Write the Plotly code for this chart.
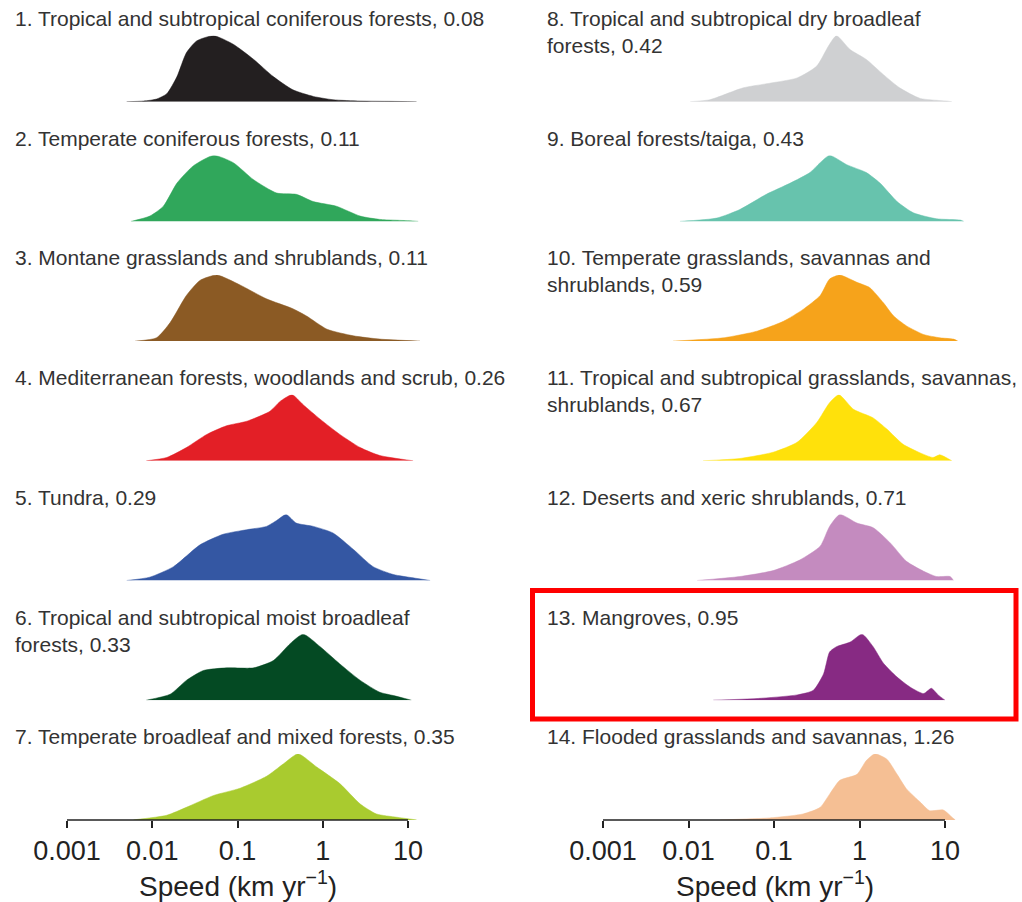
import numpy as np
import plotly.graph_objects as go

# ---------------- data ----------------
names = [
    "Tropical and subtropical coniferous forests",
    "Temperate coniferous forests",
    "Montane grasslands and shrublands",
    "Mediterranean forests, woodlands and scrub",
    "Tundra",
    "Tropical and subtropical moist broadleaf forests",
    "Temperate broadleaf and mixed forests",
    "Tropical and subtropical dry broadleaf forests",
    "Boreal forests/taiga",
    "Temperate grasslands, savannas and shrublands",
    "Tropical and subtropical grasslands, savannas, shrublands",
    "Deserts and xeric shrublands",
    "Mangroves",
    "Flooded grasslands and savannas",
]
medians = ["0.08", "0.11", "0.11", "0.26", "0.29", "0.33", "0.35",
           "0.42", "0.43", "0.59", "0.67", "0.71", "0.95", "1.26"]
colors = ["#231f20", "#30a75b", "#8b5a24", "#e31f26", "#3457a3", "#044a23", "#a9cb2f",
          "#cfd0d2", "#67c3ad", "#f6a31b", "#ffe10b", "#c48bbf", "#872a83", "#f5bf94"]
wrap_after = {6: "broadleaf", 8: "broadleaf", 10: "and", 11: "savannas,"}

tick_vals = [0.001, 0.01, 0.1, 1, 10]
tick_text = ["0.001", "0.01", "0.1", "1", "10"]

# log10(speed, km/yr) and relative density (peak = 1)
lx01 = [-2.3, -2.1, -1.95, -1.83, -1.71, -1.60, -1.48, -1.28, -1.05, -0.81, -0.58, -0.35, -0.11, 0.12, 0.44, 0.8, 1.1]
dy01 = [0, 0.01, 0.04, 0.12, 0.38, 0.74, 0.92, 1.0, 0.87, 0.64, 0.38, 0.18, 0.08, 0.03, 0.01, 0.005, 0]
lx02 = [-2.25, -2.03, -1.87, -1.71, -1.52, -1.28, -1.05, -0.81, -0.54, -0.31, -0.11, 0.16, 0.44, 0.67, 1.02, 1.12]
dy02 = [0, 0.08, 0.23, 0.58, 0.84, 1.0, 0.89, 0.63, 0.43, 0.41, 0.30, 0.23, 0.08, 0.03, 0.01, 0]
lx03 = [-2.2, -1.95, -1.79, -1.60, -1.44, -1.24, -0.97, -0.66, -0.35, -0.19, 0.05, 0.36, 0.67, 1.14]
dy03 = [0, 0.05, 0.28, 0.69, 0.92, 1.0, 0.85, 0.64, 0.49, 0.38, 0.18, 0.08, 0.03, 0]
lx04 = [-2.07, -1.83, -1.60, -1.36, -1.13, -0.89, -0.62, -0.50, -0.36, -0.23, -0.03, 0.20, 0.44, 0.67, 1.06]
dy04 = [0, 0.05, 0.2, 0.4, 0.53, 0.6, 0.75, 0.9, 1.0, 0.85, 0.63, 0.4, 0.2, 0.08, 0]
lx05 = [-2.30, -2.03, -1.75, -1.44, -1.17, -0.89, -0.66, -0.54, -0.43, -0.31, -0.11, 0.12, 0.36, 0.59, 0.83, 1.06, 1.26]
dy05 = [0, 0.05, 0.21, 0.54, 0.70, 0.77, 0.82, 0.91, 1.0, 0.87, 0.82, 0.72, 0.47, 0.21, 0.09, 0.04, 0]
lx06 = [-2.07, -1.79, -1.60, -1.40, -1.13, -0.81, -0.58, -0.38, -0.23, -0.03, 0.20, 0.44, 0.67, 0.83, 1.04]
dy06 = [0, 0.09, 0.30, 0.45, 0.49, 0.49, 0.60, 0.86, 1.0, 0.81, 0.55, 0.30, 0.12, 0.07, 0]
lx07 = [-2.22, -1.83, -1.60, -1.28, -0.97, -0.66, -0.46, -0.29, -0.07, 0.20, 0.44, 0.63, 0.87, 1.10]
dy07 = [0, 0.07, 0.19, 0.37, 0.48, 0.66, 0.85, 1.0, 0.80, 0.55, 0.24, 0.09, 0.04, 0]
lx08 = [-1.98, -1.75, -1.36, -1.05, -0.73, -0.50, -0.36, -0.27, -0.11, 0.08, 0.28, 0.47, 0.71, 1.02, 1.08]
dy08 = [0, 0.03, 0.21, 0.28, 0.36, 0.54, 0.85, 1.0, 0.79, 0.64, 0.41, 0.21, 0.05, 0.01, 0]
lx09 = [-2.10, -1.67, -1.40, -1.09, -0.81, -0.58, -0.46, -0.35, -0.15, 0.08, 0.24, 0.44, 0.63, 0.90, 1.18, 1.22]
dy09 = [0, 0.05, 0.18, 0.41, 0.58, 0.74, 0.89, 1.0, 0.86, 0.74, 0.58, 0.30, 0.13, 0.04, 0.02, 0]
lx10 = [-2.18, -1.59, -1.20, -0.89, -0.66, -0.46, -0.35, -0.23, -0.03, 0.12, 0.28, 0.40, 0.55, 0.75, 0.94, 1.10, 1.15]
dy10 = [0, 0.05, 0.15, 0.30, 0.48, 0.69, 0.94, 1.0, 0.89, 0.81, 0.58, 0.38, 0.23, 0.10, 0.05, 0.03, 0]
lx11 = [-1.83, -1.40, -1.01, -0.73, -0.50, -0.35, -0.24, -0.07, 0.16, 0.32, 0.51, 0.71, 0.86, 0.94, 1.08]
dy11 = [0, 0.035, 0.13, 0.28, 0.58, 0.88, 1.0, 0.78, 0.65, 0.48, 0.25, 0.12, 0.05, 0.09, 0]
lx12 = [-1.90, -1.40, -1.01, -0.70, -0.46, -0.35, -0.23, -0.03, 0.16, 0.36, 0.55, 0.75, 0.90, 1.06, 1.10]
dy12 = [0, 0.06, 0.15, 0.31, 0.52, 0.82, 1.0, 0.87, 0.80, 0.57, 0.29, 0.14, 0.06, 0.06, 0]
lx13 = [-1.71, -1.20, -0.73, -0.54, -0.42, -0.35, -0.27, -0.11, 0.03, 0.16, 0.28, 0.44, 0.59, 0.75, 0.84, 0.92, 1.0]
dy13 = [0, 0.025, 0.08, 0.15, 0.40, 0.73, 0.81, 0.88, 1.0, 0.81, 0.56, 0.35, 0.20, 0.10, 0.18, 0.08, 0]
lx14 = [-1.63, -1.05, -0.66, -0.46, -0.35, -0.23, -0.03, 0.08, 0.18, 0.32, 0.44, 0.55, 0.71, 0.82, 0.98, 1.10, 1.12]
dy14 = [0, 0.03, 0.09, 0.19, 0.39, 0.60, 0.69, 0.90, 1.0, 0.92, 0.69, 0.47, 0.27, 0.14, 0.15, 0.02, 0]

series_x = [lx01, lx02, lx03, lx04, lx05, lx06, lx07, lx08, lx09, lx10, lx11, lx12, lx13, lx14]
series_y = [dy01, dy02, dy03, dy04, dy05, dy06, dy07, dy08, dy09, dy10, dy11, dy12, dy13, dy14]

# ---------------- layout geometry ----------------
W, H = 1022, 902
row_base = [101.7 + 119.7 * i for i in range(7)]   # baseline pixel of each ridge
ridge_h = 66
col_dom = [(0.0, 0.5), (0.5, 1.0)]
col_range = [(-3 - 67 / 85.25, -3 + (511 - 67) / 85.25),
             (-3 - (603 - 511) / 85.5, -3 + (1022 - 603) / 85.5)]
label_x = [13, 545]
title_x = [237.5, 774.5]
text_col = "#333333"
font_family = "Liberation Sans, Arial, Helvetica, sans-serif"


def wrap_label(text, word):
    words = text.split(" ")
    i = words.index(word)
    return " ".join(words[:i + 1]) + "<br>" + " ".join(words[i + 1:])


fig = go.Figure()
layout = {}
annotations = []
shapes = []

for k in range(14):
    n = k + 1
    col, row = divmod(k, 7)
    xa, ya = f"x{n}", f"y{n}"
    fig.add_trace(go.Scatter(
        x=10 ** np.array(series_x[k]), y=series_y[k],
        xaxis=xa, yaxis=ya, mode="lines",
        line=dict(color=colors[k], width=0.5, shape="spline", smoothing=0.6),
        fill="tozeroy", fillcolor=colors[k], hoverinfo="skip", showlegend=False,
    ))
    B = row_base[row]
    bottom = row == 6
    axis = dict(
        domain=list(col_dom[col]), type="log", range=list(col_range[col]),
        anchor=ya, showgrid=False, zeroline=False, showline=False,
        fixedrange=True,
    )
    if bottom:
        axis.update(tickvals=tick_vals, ticktext=tick_text, ticks="outside",
                    ticklen=7, tickwidth=1.5, tickcolor="#222", showticklabels=True,
                    tickfont=dict(size=27, color="#222", family=font_family))
    else:
        axis.update(showticklabels=False, ticks="")
    layout[f"xaxis{n}"] = axis
    layout[f"yaxis{n}"] = dict(
        domain=[1 - B / H, 1 - (B - ridge_h) / H], range=[0, 1.0], anchor=xa,
        visible=False, fixedrange=True,
    )
    # label
    text = f"{n}. {names[k]}, {medians[k]}"
    if n in wrap_after:
        text = wrap_label(text, wrap_after[n])
    annotations.append(dict(
        text=text, xref="paper", yref="paper", x=label_x[col] / W, y=1 - (5 + 119.7 * row) / H,
        xanchor="left", yanchor="top", align="left", showarrow=False,
        font=dict(size=21, color=text_col, family=font_family),
    ))
    if bottom:
        shapes.append(dict(type="line", xref=xa, yref=f"{ya} domain",
                           x0=tick_vals[0], x1=tick_vals[-1], y0=0, y1=0,
                           line=dict(color="#222", width=1.5)))
        annotations.append(dict(
            text="Speed (km yr<sup>−1</sup>)", xref="paper", yref="paper",
            x=title_x[col] / W, y=1 - 884 / H, xanchor="center", yanchor="middle",
            showarrow=False, font=dict(size=28, color="#222", family=font_family),
        ))

# highlight box around Mangroves panel
shapes.append(dict(type="rect", xref="paper", yref="paper",
                   x0=532.5 / W, x1=1016 / W, y0=1 - 719 / H, y1=1 - 590.5 / H,
                   line=dict(color="#ff0000", width=5), fillcolor="rgba(0,0,0,0)"))

fig.update_layout(
    width=W, height=H, autosize=False,
    margin=dict(l=0, r=0, t=0, b=0, pad=0),
    paper_bgcolor="white", plot_bgcolor="rgba(0,0,0,0)",
    annotations=annotations, shapes=shapes,
    font=dict(family=font_family),
    **layout,
)
fig.write_html("out.html", config={"displayModeBar": False})
